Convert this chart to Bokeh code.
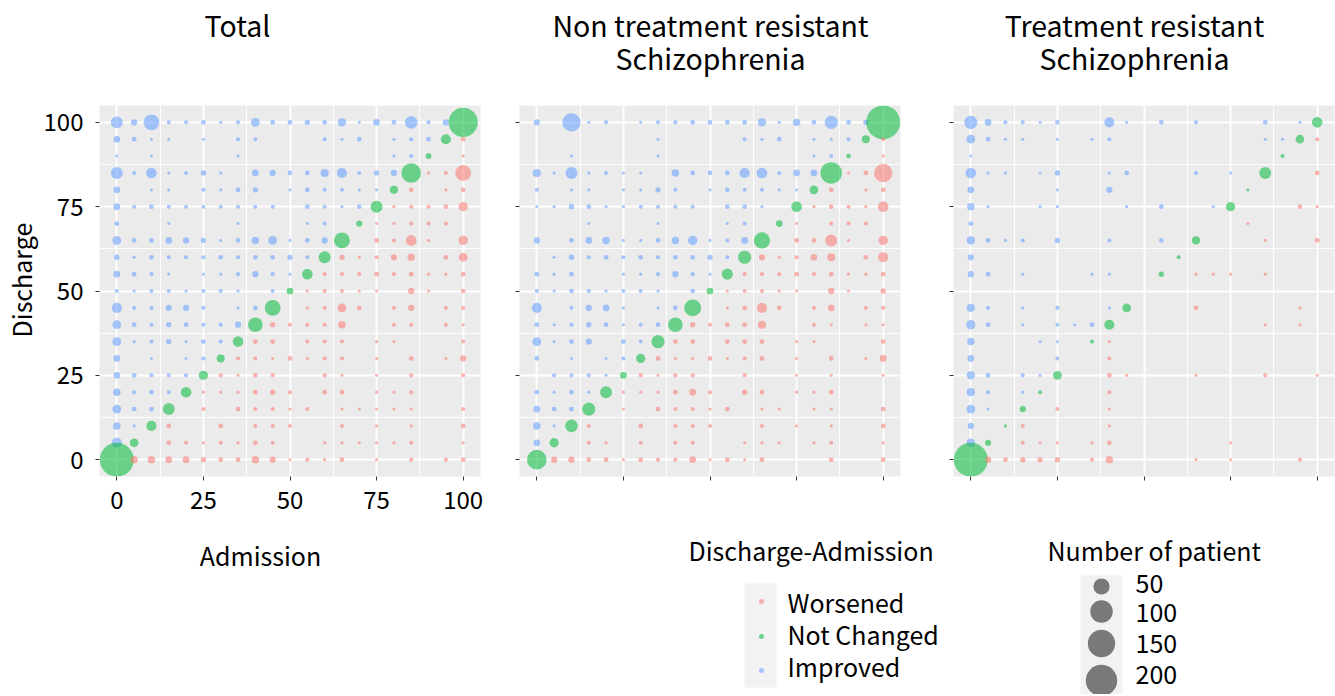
import math
from bokeh.plotting import figure
from bokeh.models import Range1d, FixedTicker, ColumnDataSource, CustomJSTickFormatter
from bokeh.layouts import row, column
from bokeh.embed import file_html
from bokeh.resources import INLINE
from bokeh.core.properties import value

FONT = "Noto Sans CJK JP"

# ---------------- data ----------------
# admission score levels (columns) and discharge score levels (rows, top row first)
SCORES = [0, 5, 10, 15, 20, 25, 30, 35, 40, 45, 50, 55, 60, 65, 70, 75, 80, 85, 90, 95, 100]
ROW_SCORES = [100, 95, 90, 85, 80, 75, 70, 65, 60, 55, 50, 45, 40, 35, 30, 25, 20, 15, 10, 5, 0]

CATEGORIES = ["Worsened", "Not Changed", "Improved"]
CAT_COLORS = ["#F8766D", "#00BA38", "#619CFF"]
SIZE_BREAKS = [50, 100, 150, 200]

# number of patients: rows = discharge 100..0, columns = admission 0..100
TOTAL_COUNTS = [
    [26, 6, 47, 2, 2, 3, 1, 2, 13, 3, 3, 4, 3, 11, 1, 7, 3, 29, 2, 6, 172],
    [7, 3, 1, 1, 0, 1, 0, 2, 2, 0, 0, 0, 2, 1, 3, 0, 1, 2, 3, 18, 3],
    [1, 0, 1, 0, 0, 0, 0, 1, 0, 0, 0, 0, 0, 0, 0, 0, 1, 2, 5, 0, 1],
    [26, 2, 20, 1, 2, 4, 1, 0, 7, 6, 3, 3, 11, 18, 2, 4, 6, 75, 1, 2, 47],
    [7, 0, 1, 1, 0, 2, 1, 3, 4, 0, 1, 3, 2, 2, 1, 1, 11, 3, 0, 1, 3],
    [7, 2, 3, 2, 2, 2, 2, 2, 2, 2, 0, 3, 2, 1, 3, 26, 1, 2, 2, 3, 15],
    [3, 0, 0, 1, 0, 0, 0, 1, 0, 0, 0, 1, 2, 0, 6, 1, 1, 2, 2, 2, 0],
    [13, 3, 3, 7, 6, 4, 1, 3, 9, 13, 1, 3, 6, 47, 0, 3, 2, 20, 1, 0, 15],
    [4, 1, 3, 2, 2, 2, 3, 2, 3, 3, 4, 2, 26, 4, 1, 2, 6, 9, 0, 3, 13],
    [7, 3, 2, 1, 0, 1, 1, 2, 6, 2, 1, 20, 2, 2, 2, 3, 2, 3, 1, 1, 3],
    [2, 1, 2, 2, 1, 2, 2, 1, 0, 2, 7, 1, 2, 2, 1, 1, 0, 6, 1, 0, 3],
    [18, 2, 2, 6, 6, 2, 0, 1, 3, 47, 0, 1, 2, 13, 3, 0, 2, 6, 0, 2, 2],
    [13, 3, 2, 4, 3, 2, 2, 6, 40, 4, 2, 2, 2, 9, 0, 0, 2, 2, 0, 2, 1],
    [13, 1, 2, 4, 1, 3, 2, 20, 3, 3, 0, 2, 2, 2, 0, 1, 1, 0, 0, 0, 2],
    [7, 0, 1, 0, 1, 2, 11, 2, 2, 1, 3, 1, 2, 2, 0, 1, 0, 3, 0, 1, 6],
    [7, 3, 2, 2, 2, 15, 2, 1, 3, 2, 0, 0, 2, 1, 0, 1, 0, 2, 0, 0, 2],
    [9, 2, 3, 2, 20, 1, 1, 1, 3, 4, 2, 0, 3, 3, 0, 1, 1, 2, 0, 0, 0],
    [13, 3, 3, 26, 0, 2, 0, 3, 2, 2, 1, 2, 0, 1, 1, 1, 1, 1, 0, 0, 2],
    [9, 1, 18, 3, 0, 0, 3, 0, 2, 2, 2, 0, 0, 2, 0, 1, 0, 1, 0, 0, 3],
    [18, 13, 0, 3, 2, 1, 2, 1, 3, 2, 0, 0, 1, 1, 1, 1, 1, 2, 0, 0, 1],
    [235, 9, 9, 7, 7, 4, 3, 3, 9, 6, 1, 2, 1, 3, 0, 1, 0, 2, 0, 2, 3],
]

NON_TRS_COUNTS = [
    [6, 0, 65, 1, 2, 0, 1, 2, 2, 3, 3, 3, 3, 11, 1, 9, 3, 32, 3, 4, 235],
    [0, 0, 0, 0, 0, 0, 0, 1, 0, 0, 0, 0, 2, 1, 3, 0, 1, 1, 2, 11, 2],
    [0, 0, 1, 0, 0, 0, 0, 1, 0, 0, 0, 0, 0, 0, 0, 0, 1, 2, 3, 0, 1],
    [11, 1, 26, 1, 2, 1, 1, 0, 9, 3, 3, 3, 18, 20, 2, 7, 7, 91, 1, 3, 65],
    [2, 0, 1, 1, 0, 1, 1, 4, 2, 0, 1, 3, 2, 2, 1, 1, 13, 3, 0, 1, 3],
    [1, 1, 4, 3, 1, 1, 2, 2, 2, 2, 0, 3, 3, 1, 0, 20, 1, 3, 2, 1, 20],
    [0, 0, 0, 1, 0, 0, 0, 1, 0, 0, 0, 1, 2, 0, 7, 1, 0, 2, 2, 2, 0],
    [6, 0, 3, 7, 9, 1, 1, 3, 9, 15, 1, 2, 7, 50, 0, 3, 3, 26, 1, 0, 15],
    [0, 1, 4, 2, 3, 2, 3, 2, 3, 3, 4, 2, 32, 6, 1, 2, 7, 11, 0, 3, 18],
    [3, 1, 3, 0, 0, 1, 1, 2, 6, 2, 1, 22, 2, 2, 2, 3, 2, 3, 1, 1, 3],
    [2, 1, 3, 2, 1, 2, 2, 1, 0, 3, 7, 1, 2, 2, 1, 1, 0, 6, 1, 0, 4],
    [18, 0, 2, 6, 7, 1, 0, 1, 3, 55, 0, 1, 3, 18, 3, 0, 2, 7, 0, 2, 2],
    [3, 1, 2, 4, 3, 1, 2, 3, 40, 4, 2, 3, 3, 11, 0, 0, 2, 1, 0, 1, 1],
    [13, 1, 3, 6, 0, 3, 2, 32, 3, 3, 0, 3, 3, 3, 0, 1, 1, 0, 0, 0, 3],
    [3, 0, 1, 0, 1, 2, 15, 3, 1, 1, 3, 1, 2, 3, 0, 1, 0, 3, 0, 1, 7],
    [0, 2, 2, 2, 1, 7, 2, 1, 2, 2, 0, 0, 2, 0, 0, 1, 0, 1, 0, 0, 1],
    [3, 1, 3, 1, 26, 1, 1, 1, 3, 7, 2, 0, 4, 3, 0, 1, 1, 3, 0, 0, 0],
    [7, 3, 3, 32, 0, 1, 0, 3, 2, 2, 1, 3, 0, 1, 1, 0, 1, 1, 0, 0, 3],
    [9, 1, 29, 2, 0, 0, 3, 0, 2, 2, 2, 0, 0, 2, 0, 1, 0, 1, 0, 0, 3],
    [7, 15, 0, 2, 1, 0, 2, 0, 2, 2, 0, 0, 1, 1, 1, 0, 1, 2, 0, 0, 1],
    [75, 6, 6, 3, 3, 1, 3, 2, 2, 7, 1, 3, 1, 3, 0, 0, 0, 3, 0, 0, 3],
]

TRS_COUNTS = [
    [32, 7, 2, 2, 1, 3, 0, 0, 18, 1, 0, 3, 0, 2, 0, 0, 0, 3, 0, 1, 20],
    [13, 3, 1, 1, 0, 1, 0, 1, 2, 0, 0, 0, 0, 0, 0, 0, 0, 1, 1, 13, 2],
    [1, 0, 0, 0, 0, 0, 0, 0, 0, 0, 0, 0, 0, 0, 0, 0, 0, 0, 2, 0, 0],
    [20, 1, 1, 0, 1, 4, 0, 0, 1, 3, 0, 0, 0, 2, 0, 1, 0, 26, 0, 0, 3],
    [7, 0, 0, 0, 0, 1, 0, 0, 6, 0, 0, 0, 0, 0, 0, 0, 1, 0, 0, 0, 0],
    [9, 1, 0, 0, 1, 1, 0, 0, 0, 1, 0, 3, 0, 0, 1, 15, 0, 0, 0, 3, 1],
    [3, 0, 0, 0, 0, 0, 0, 0, 0, 0, 0, 0, 0, 0, 0, 0, 1, 0, 0, 0, 0],
    [11, 3, 1, 2, 0, 4, 0, 0, 2, 0, 0, 3, 0, 11, 0, 0, 0, 1, 0, 0, 3],
    [6, 0, 0, 0, 0, 0, 0, 0, 0, 0, 0, 0, 2, 0, 0, 0, 0, 0, 0, 0, 0],
    [6, 3, 0, 1, 0, 0, 0, 1, 1, 0, 0, 4, 0, 1, 1, 1, 0, 1, 0, 0, 0],
    [0, 0, 0, 0, 0, 0, 0, 0, 0, 0, 0, 0, 0, 0, 0, 0, 0, 0, 0, 0, 0],
    [11, 2, 0, 1, 0, 2, 0, 0, 1, 13, 0, 0, 0, 3, 0, 0, 0, 0, 0, 1, 0],
    [15, 3, 0, 1, 0, 2, 1, 3, 18, 0, 0, 0, 0, 0, 0, 0, 0, 1, 0, 1, 0],
    [9, 0, 0, 0, 1, 1, 0, 2, 1, 0, 0, 0, 0, 0, 0, 0, 0, 0, 0, 0, 0],
    [7, 0, 0, 0, 0, 2, 0, 0, 2, 0, 0, 0, 0, 0, 0, 0, 0, 0, 0, 0, 0],
    [11, 3, 0, 2, 1, 13, 0, 0, 3, 1, 0, 0, 0, 1, 0, 0, 0, 2, 0, 0, 1],
    [11, 2, 0, 1, 2, 0, 0, 0, 2, 0, 0, 0, 0, 0, 0, 0, 0, 0, 0, 0, 0],
    [13, 1, 0, 6, 0, 2, 0, 0, 1, 0, 0, 0, 0, 0, 0, 0, 0, 0, 0, 0, 0],
    [6, 0, 1, 2, 0, 0, 0, 0, 1, 0, 0, 0, 0, 0, 0, 0, 0, 0, 0, 0, 0],
    [13, 6, 0, 2, 1, 1, 0, 1, 3, 0, 0, 0, 0, 0, 0, 1, 0, 0, 0, 0, 0],
    [235, 6, 3, 4, 4, 4, 0, 2, 9, 0, 0, 0, 0, 1, 0, 1, 0, 0, 0, 2, 0],
]

PANEL_TITLES = [["Total"],
                ["Non treatment resistant", "Schizophrenia"],
                ["Treatment resistant", "Schizophrenia"]]
PANEL_COUNTS = [TOTAL_COUNTS, NON_TRS_COUNTS, TRS_COUNTS]
X_LABEL = "Admission"
Y_LABEL = "Discharge"

# ---------------- styling / layout (screen pixels) ----------------
ALPHA = 0.55
PANEL_BG = "#EBEBEB"
KEY_BG = "#F2F2F2"
TICK_FONT = "24px"
LABEL_FONT = "25px"
TITLE_FONT = "28.5px"
TEXT_DY = -3                # nudge so that "middle" baseline looks centred
PAGE_X0, PAGE_X1 = 0, 1334
TITLE_H = 88
FRAME_TOP, FRAME_H = 17, 371
BOTTOM_Y0, BOTTOM_Y1 = 528, 694
PANEL_BOTTOM = BOTTOM_Y0 - TITLE_H - FRAME_TOP - FRAME_H
YLAB_W = 40
# (left border, frame width, right border)
PANEL_GEOM = [(58, 381, 11), (28, 381, 11), (42, 381, 1)]
TITLE_CX = [237, 710, 1134]
TITLE_Y = [27, 60]


def point_size(n):
    return 1.0 + 2.15 * math.sqrt(n)


def category_of(adm, dis):
    if dis > adm:
        return 2
    if dis == adm:
        return 1
    return 0


def build_source(matrix):
    xs, ys, ns, sizes, colors, cats = [], [], [], [], [], []
    for j, adm in enumerate(SCORES):
        for i, dis in enumerate(ROW_SCORES):
            n = matrix[i][j]
            if n <= 0:
                continue
            c = category_of(adm, dis)
            xs.append(adm)
            ys.append(dis)
            ns.append(n)
            sizes.append(point_size(n))
            colors.append(CAT_COLORS[c])
            cats.append(CATEGORIES[c])
    return ColumnDataSource(dict(adm=xs, dis=ys, n=ns, size=sizes, color=colors, cat=cats))


def blank_figure(x0, x1, y0, y1):
    f = figure(width=x1 - x0, height=y1 - y0,
               x_range=Range1d(x0, x1), y_range=Range1d(y1, y0),
               x_axis_location=None, y_axis_location=None, min_border=0,
               output_backend="svg", toolbar_location=None)
    f.grid.visible = False
    f.outline_line_color = None
    f.background_fill_color = "white"
    f.border_fill_color = "white"
    return f


def put_text(f, xs, ys, texts, size=LABEL_FONT, align="left", angle=0.0, dy=TEXT_DY):
    f.text(x=xs, y=[y + dy for y in ys], text=texts, text_font=value(FONT),
           text_font_size=value(size), text_baseline="middle", text_align=align,
           text_color="black", angle=angle)


def make_panel(idx):
    bl, fw, br = PANEL_GEOM[idx]
    p = figure(frame_width=fw, frame_height=FRAME_H,
               x_range=Range1d(-5, 105), y_range=Range1d(-5, 105),
               min_border_left=bl, min_border_right=br,
               min_border_top=FRAME_TOP, min_border_bottom=PANEL_BOTTOM,
               output_backend="svg", toolbar_location=None)
    p.background_fill_color = PANEL_BG
    p.border_fill_color = "white"
    p.outline_line_color = None
    ticker = FixedTicker(ticks=[0, 25, 50, 75, 100], minor_ticks=[12.5, 37.5, 62.5, 87.5])
    for ax in (p.xaxis[0], p.yaxis[0]):
        ax.ticker = ticker
        ax.axis_line_color = None
        ax.minor_tick_line_color = None
        ax.major_tick_in = 0
        ax.major_tick_out = 4
        ax.major_tick_line_color = "#333333"
        ax.major_label_text_font = FONT
        ax.major_label_text_color = "black"
    p.grid.grid_line_color = "white"
    p.grid.grid_line_width = 1.8
    p.grid.minor_grid_line_color = "white"
    p.grid.minor_grid_line_width = 0.9

    if idx == 0:
        p.axis.major_label_text_font_size = TICK_FONT
        p.xaxis.major_label_standoff = 10
        p.yaxis.major_label_standoff = 12
    else:
        p.axis.formatter = CustomJSTickFormatter(code="return ''")
        p.axis.major_label_text_font_size = "1px"
        p.axis.major_label_standoff = 0

    src = build_source(PANEL_COUNTS[idx])
    p.scatter(x="adm", y="dis", size="size", fill_color="color", fill_alpha=ALPHA,
              line_color=None, source=src)
    return p


# panel titles
title_fig = blank_figure(PAGE_X0, PAGE_X1, 0, TITLE_H)
for k, lines in enumerate(PANEL_TITLES):
    put_text(title_fig, [TITLE_CX[k]] * len(lines), TITLE_Y[:len(lines)], lines,
             size=TITLE_FONT, align="center")

# y-axis title (rotated)
ylab_fig = blank_figure(PAGE_X0, PAGE_X0 + YLAB_W, TITLE_H, BOTTOM_Y0)
put_text(ylab_fig, [20], [295], [Y_LABEL], align="center", angle=math.pi / 2, dy=0)

panels = [make_panel(i) for i in range(3)]

# bottom strip: x-axis title and legends
bottom = blank_figure(PAGE_X0, PAGE_X1, BOTTOM_Y0, BOTTOM_Y1)
put_text(bottom, [260], [557], [X_LABEL], align="center")

# colour legend
put_text(bottom, [688], [552], ["Discharge-Admission"])
bottom.quad(left=[744], right=[776], top=[583], bottom=[687], fill_color=KEY_BG, line_color=None)
bottom.scatter(x=[761] * 3, y=[601, 636, 670], size=5, fill_color=CAT_COLORS, fill_alpha=ALPHA,
               line_color=None)
put_text(bottom, [787] * 3, [604, 636, 668], CATEGORIES)

# size legend
put_text(bottom, [1047], [552], ["Number of patient"])
bottom.quad(left=[1080], right=[1122], top=[575], bottom=[700], fill_color=KEY_BG, line_color=None)
bottom.scatter(x=[1101] * 4, y=[586, 611, 643, 680], size=[point_size(v) for v in SIZE_BREAKS],
               fill_color="black", fill_alpha=0.5, line_color=None)
put_text(bottom, [1135] * 4, [586, 615, 646, 677], [str(v) for v in SIZE_BREAKS])

layout = column(title_fig, row(ylab_fig, *panels), bottom)

with open("out.html", "w") as f:
    f.write(file_html(layout, INLINE))
